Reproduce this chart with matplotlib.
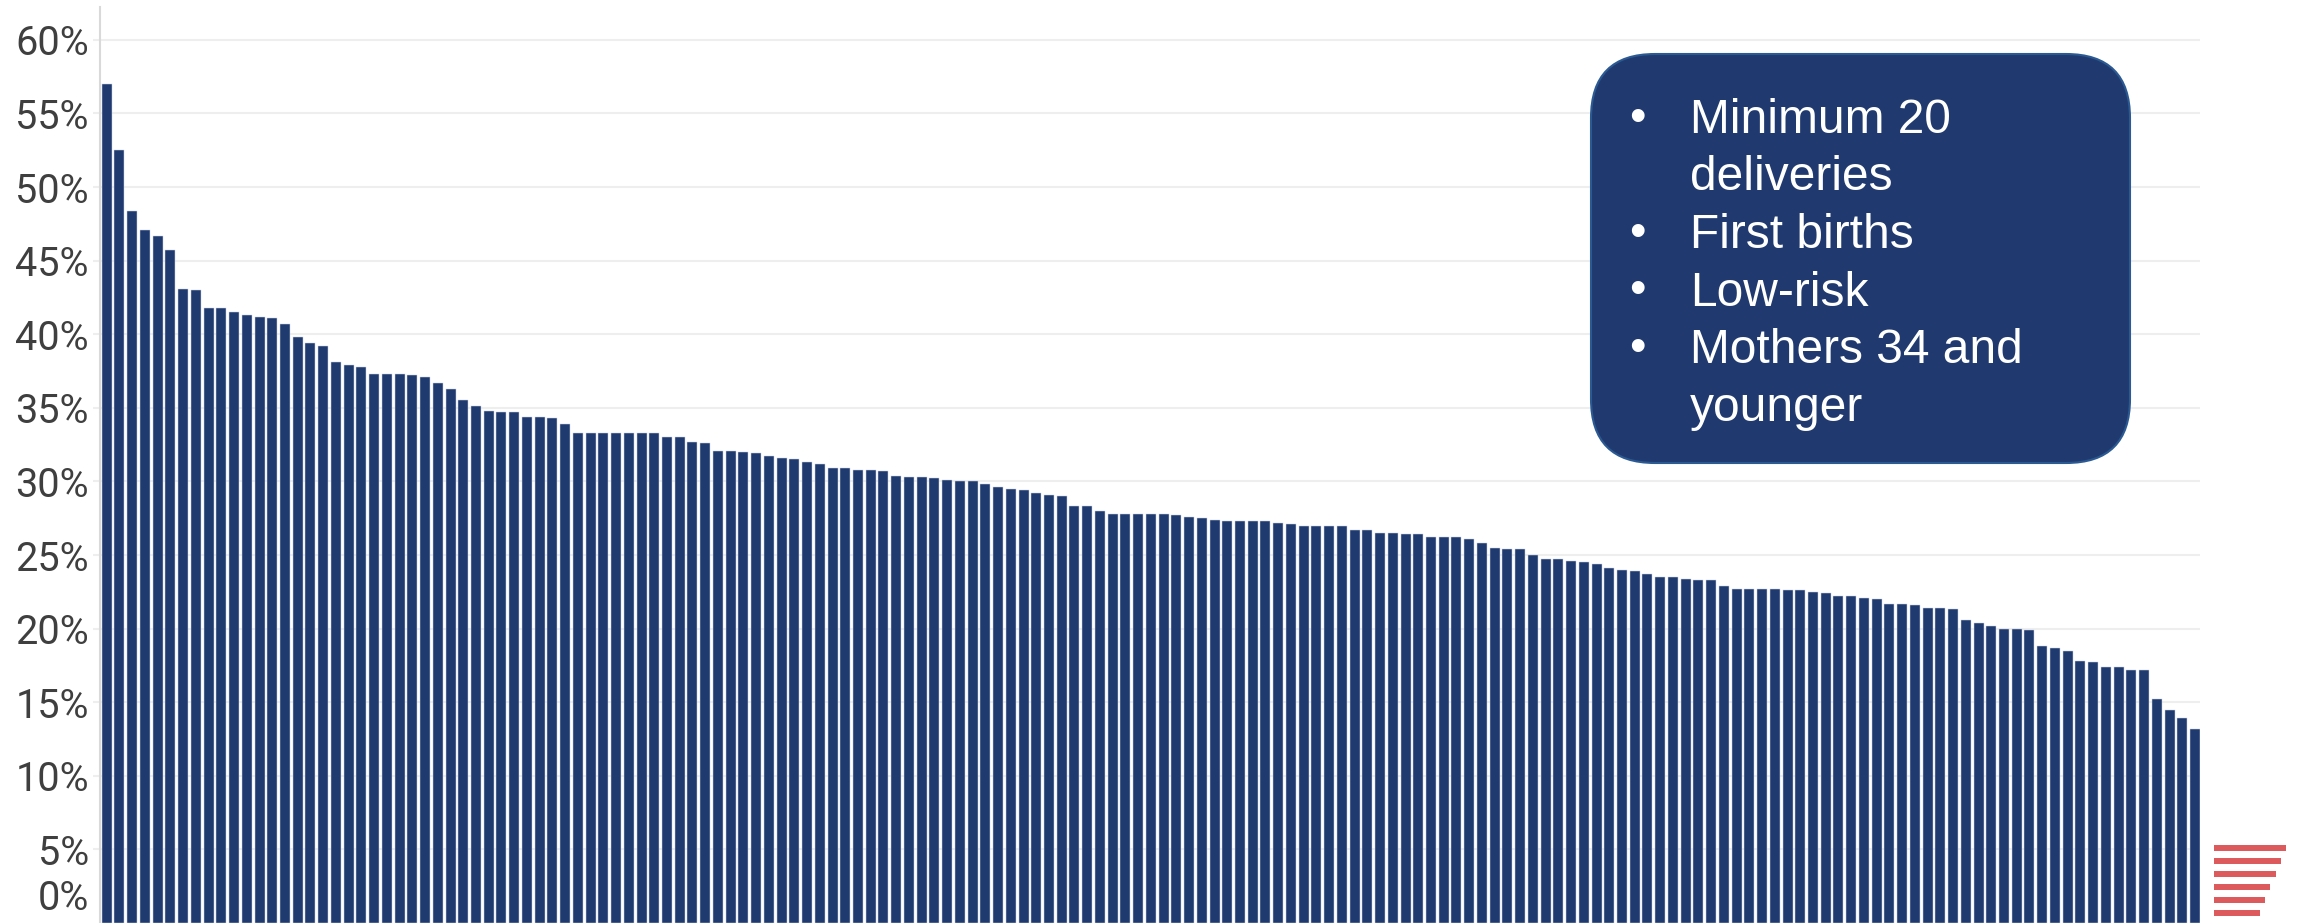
import matplotlib
matplotlib.use("Agg")
import matplotlib.pyplot as plt
from matplotlib.patches import FancyBboxPatch
from matplotlib.lines import Line2D
import numpy as np

# Share of first-birth, low-risk deliveries (%) per hospital, sorted high to low
rates = [
    57.0, 52.5, 48.4, 47.1, 46.7, 45.7, 43.1, 43.0, 41.8, 41.8,
    41.5, 41.3, 41.2, 41.1, 40.7, 39.8, 39.4, 39.2, 38.1, 37.9,
    37.8, 37.3, 37.3, 37.3, 37.2, 37.1, 36.7, 36.3, 35.5, 35.1,
    34.8, 34.7, 34.7, 34.4, 34.4, 34.3, 33.9, 33.3, 33.3, 33.3,
    33.3, 33.3, 33.3, 33.3, 33.0, 33.0, 32.7, 32.6, 32.1, 32.1,
    32.0, 31.9, 31.7, 31.6, 31.5, 31.3, 31.2, 30.9, 30.9, 30.8,
    30.8, 30.7, 30.4, 30.3, 30.3, 30.2, 30.1, 30.0, 30.0, 29.8,
    29.6, 29.5, 29.4, 29.2, 29.1, 29.0, 28.3, 28.3, 28.0, 27.8,
    27.8, 27.8, 27.8, 27.8, 27.7, 27.6, 27.5, 27.4, 27.3, 27.3,
    27.3, 27.3, 27.2, 27.1, 27.0, 27.0, 27.0, 27.0, 26.7, 26.7,
    26.5, 26.5, 26.4, 26.4, 26.2, 26.2, 26.2, 26.1, 25.8, 25.5,
    25.4, 25.4, 25.0, 24.7, 24.7, 24.6, 24.5, 24.4, 24.1, 24.0,
    23.9, 23.7, 23.5, 23.5, 23.4, 23.3, 23.3, 22.9, 22.7, 22.7,
    22.7, 22.7, 22.6, 22.6, 22.5, 22.4, 22.2, 22.2, 22.1, 22.0,
    21.7, 21.7, 21.6, 21.4, 21.4, 21.3, 20.6, 20.4, 20.2, 20.0,
    20.0, 19.9, 18.8, 18.7, 18.5, 17.8, 17.7, 17.4, 17.4, 17.2,
    17.2, 15.2, 14.5, 13.9, 13.2,
]
y_ticks = [5, 10, 15, 20, 25, 30, 35, 40, 45, 50, 55, 60]
criteria = ["Minimum 20\ndeliveries", "First births", "Low-risk", "Mothers 34 and\nyounger"]

NAVY = "#1f3a6f"
GRID = "#eeeeee"
LABEL = "#3f3f3f"
TICK_FONT = ["Roboto", "DejaVu Sans"]
BOX_FONT = ["Liberation Sans", "DejaVu Sans"]

W, H, DPI = 2300, 923, 100
fig = plt.figure(figsize=(W / DPI, H / DPI), dpi=DPI)
ax = fig.add_axes([100 / W, 0.0, 2100 / W, (H - 7) / H])

x = np.arange(len(rates))
bar_w = 0.785
ax.bar(x, rates, width=bar_w, color=NAVY, edgecolor="#c9d1e3", linewidth=0.35, zorder=3)

ax.set_xlim(-bar_w / 2 - 0.135, len(rates) - 1 + bar_w / 2)
ax.set_ylim(0, 62.23)

ax.set_yticks(y_ticks)
ax.set_yticklabels([f"{t}%" for t in y_ticks])
ax.yaxis.grid(True, color=GRID, linewidth=1.5, zorder=0)
ax.set_axisbelow(True)
ax.tick_params(axis="y", length=5, width=1.5, color=GRID, pad=3,
               labelsize=28.5, labelcolor=LABEL)
for lab in ax.get_yticklabels():
    lab.set_family(TICK_FONT)
ax.set_xticks([])
for side in ("top", "right", "bottom"):
    ax.spines[side].set_visible(False)
ax.spines["left"].set_color("#d9d9d9")
ax.spines["left"].set_linewidth(1.5)

# zero label sits just above the lower edge of the plot
ax.annotate("0%", xy=(0, 0), xycoords=("axes fraction", "data"),
            xytext=(-11 * 72 / DPI, 25 * 72 / DPI), textcoords="offset points",
            ha="right", va="center", fontsize=28.5, color=LABEL,
            family=TICK_FONT, annotation_clip=False)

# criteria call-out box
bx0, bx1, by_top, by_bot = 1591, 2130, 54, 463
box = FancyBboxPatch((bx0 / W, 1 - by_bot / H), (bx1 - bx0) / W, (by_bot - by_top) / H,
                     boxstyle=f"round,pad=0,rounding_size={64 / W}",
                     mutation_aspect=W / H,
                     transform=fig.transFigure, facecolor="#203a70",
                     edgecolor="#2b5a93", linewidth=1.5, zorder=10)
fig.add_artist(box)

line_step = 57.5
baseline = 133
for item in criteria:
    fig.text(1637 / W, 1 - (baseline - 14) / H, "\u2022", color="white",
             fontsize=34, ha="center", va="center", family=BOX_FONT, zorder=11)
    for part in item.split("\n"):
        fig.text(1690 / W, 1 - baseline / H, part, color="white", fontsize=34.5,
                 ha="left", va="baseline", family=BOX_FONT, zorder=11)
        baseline += line_step

# small striped mark in the lower right corner
for k in range(6):
    y = 1 - (848 + 13 * k) / H
    fig.add_artist(Line2D([2214 / W, (2286 - 5.2 * k) / W], [y, y],
                          transform=fig.transFigure, color="#d9474a",
                          linewidth=4.3, solid_capstyle="butt", alpha=0.9))

fig.savefig("out.png", dpi=DPI, facecolor="white")
